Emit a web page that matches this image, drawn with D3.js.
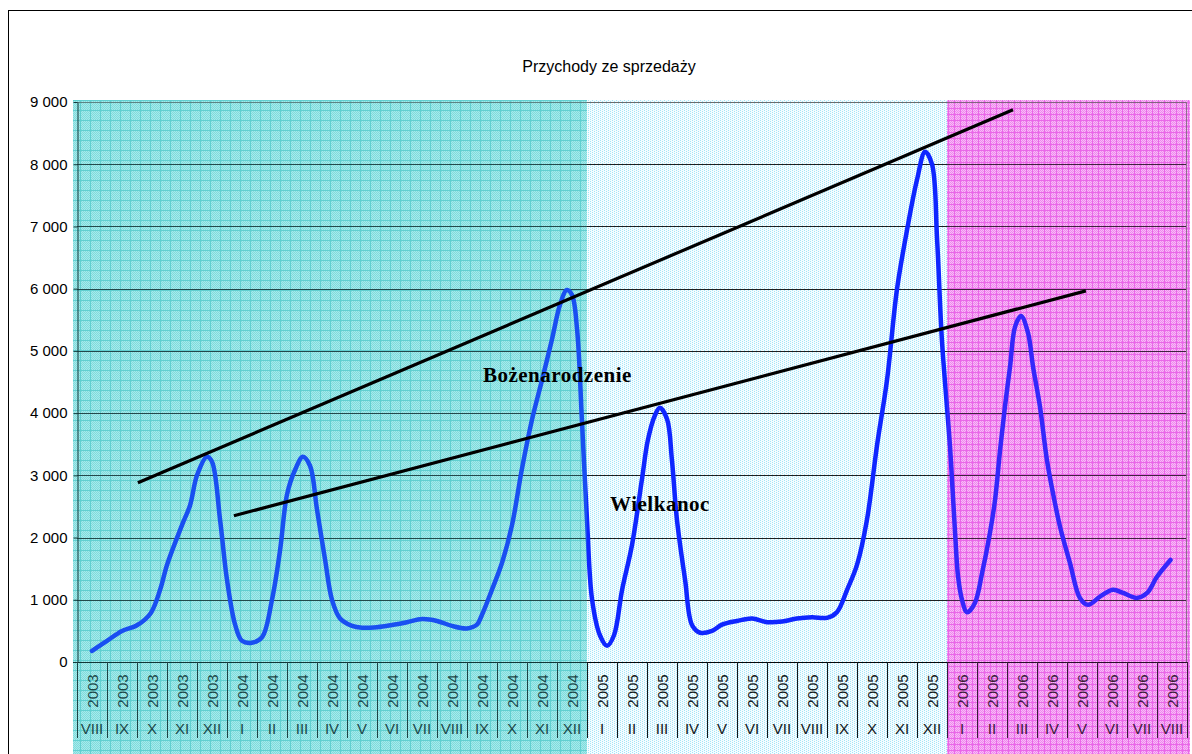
<!DOCTYPE html>
<html>
<head>
<meta charset="utf-8">
<script src="https://cdn.jsdelivr.net/npm/d3@7"></script>
<style>
  html, body { margin: 0; padding: 0; background: #fff; }
  svg { display: block; }
</style>
</head>
<body>
<svg id="chart" width="1192" height="754"></svg>
<script>
// Month categories (year + Roman month)
const years = [
  "2003","2003","2003","2003","2003",
  "2004","2004","2004","2004","2004","2004","2004","2004","2004","2004","2004","2004",
  "2005","2005","2005","2005","2005","2005","2005","2005","2005","2005","2005","2005",
  "2006","2006","2006","2006","2006","2006","2006","2006"
];
const months = [
  "VIII","IX","X","XI","XII",
  "I","II","III","IV","V","VI","VII","VIII","IX","X","XI","XII",
  "I","II","III","IV","V","VI","VII","VIII","IX","X","XI","XII",
  "I","II","III","IV","V","VI","VII","VIII"
];

// Sales curve: position along the month axis (0 = VIII 2003) and revenue
const salesPos = [
  0, 0.5, 1, 1.5, 1.95, 2.27, 2.5, 3, 3.27, 3.5, 3.83, 4, 4.27, 4.5, 4.77,
  5, 5.33, 5.67, 6, 6.27, 6.5, 6.77, 7.03, 7.27, 7.5, 7.77, 8, 8.27, 8.67,
  9, 9.5, 10, 10.5, 11, 11.5, 12, 12.5, 12.83, 13, 13.33, 13.67, 14, 14.33,
  14.67, 15, 15.33, 15.6, 15.83, 16, 16.17, 16.33, 16.5, 16.67, 16.93,
  17.17, 17.4, 17.67, 18, 18.33, 18.53, 18.77, 18.93, 19.17, 19.33, 19.5,
  19.77, 20, 20.27, 20.67, 21, 21.5, 22, 22.5, 23, 23.5, 24, 24.5, 24.83,
  25.17, 25.5, 25.83, 26.17, 26.5, 26.83, 27.17, 27.5, 27.77, 28, 28.17,
  28.33, 28.6, 28.77, 28.87, 29, 29.17, 29.43, 29.67, 29.93, 30.1, 30.27,
  30.43, 30.6, 30.77, 30.97, 31.2, 31.37, 31.6, 31.83, 32.03, 32.27, 32.6,
  32.93, 33.2, 33.6, 34.03, 34.37, 34.83, 35.17, 35.5, 35.95
];
const salesValue = [
  177, 340, 500, 590, 780, 1160, 1560, 2200, 2520, 3000, 3300, 3220, 2280, 1320, 600,
  340, 310, 400, 1000, 1800, 2690, 3090, 3300, 3150, 2450, 1640, 1000, 700, 580,
  550, 560, 595, 640, 690, 660, 580, 540, 600, 760, 1160, 1600, 2200, 3100,
  3900, 4530, 5180, 5740, 5980, 5900, 5340, 3890, 2280, 1000, 430,
  260, 430, 1160, 1880, 2930, 3570, 3970, 4085, 3900, 3250, 2280,
  1320, 595, 470, 500, 600, 660, 700, 640, 650, 700, 720, 710, 800,
  1160, 1560, 2280, 3490, 4530, 5980, 6950, 7750, 8200, 8000, 6790,
  5180, 3460, 2070, 1370, 1000, 800, 950, 1430, 2070, 2600, 3410,
  4100, 4740, 5390, 5560, 5290, 4740, 4100, 3250, 2720, 2170, 1590,
  1030, 920, 1050, 1160, 1110, 1030, 1110, 1370, 1640
];

// Trend lines drawn over the chart: [start pos, start value, end pos, end value]
const trendUpper = [1.53, 2880, 30.7, 8875];
const trendLower = [4.73, 2350, 33.13, 5965];

// Annotations: [text, pos, value]
const notes = [
  ["Bożenarodzenie", 13.03, 4500],
  ["Wielkanoc", 17.27, 2430]
];

const yTicks = [0, 1000, 2000, 3000, 4000, 5000, 6000, 7000, 8000, 9000];
const title = "Przychody ze sprzedaży";

// Season bands (first and last category index covered)
const seasons = [
  { from: 0, to: 16, under: "url(#pTeal)", tint: "rgba(60,200,205,0.28)" },
  { from: 17, to: 28, under: "url(#pIce)", tint: "rgba(90,215,250,0.04)" },
  { from: 29, to: 36, under: "url(#pPink)", tint: "rgba(240,70,235,0.18)" }
];

const svg = d3.select("#chart");
const W = 1192, H = 754;
const plot = { left: 77, right: 1187, top: 102, bottom: 662 };
const SANS = "Liberation Sans, Arial, sans-serif";
const SERIF = "Liberation Serif, 'Times New Roman', serif";

const band = d3.scaleBand().domain(d3.range(months.length)).range([plot.left, plot.right]);
const bw = band.bandwidth();
const xPos = d3.scaleLinear().domain([0, months.length - 1])
  .range([plot.left + bw / 2, plot.right - bw / 2]);
const y = d3.scaleLinear().domain([0, 9000]).range([plot.bottom, plot.top]);

// ---- fill patterns for the season bands
const defs = svg.append("defs");
function makePattern(id, size, base, check, line, step) {
  const p = defs.append("pattern").attr("id", id)
    .attr("patternUnits", "userSpaceOnUse").attr("width", size).attr("height", size);
  p.append("rect").attr("width", size).attr("height", size).attr("fill", base);
  for (let i = 0; i < size; i += step) {
    for (let j = (i / step) % 2; j < size; j += 2) {
      p.append("rect").attr("x", i).attr("y", j).attr("width", 1).attr("height", 1).attr("fill", check);
    }
  }
  if (line) {
    p.append("rect").attr("x", 0).attr("y", 0).attr("width", size).attr("height", 1).attr("fill", line);
    p.append("rect").attr("x", 0).attr("y", 0).attr("width", 1).attr("height", size).attr("fill", line);
  }
}
makePattern("pTeal", 10, "#d2f6f6", "#98e3e3", "#70d2d2", 1);
makePattern("pIce", 4, "#fbfeff", "#a6e8f8", null, 2);
makePattern("pPink", 6, "#fad6fa", "#f096f0", "#e870e8", 1);

const bandX = s => s.from === 0 ? band(s.from) - 4 : band(s.from);
const bandW = s => (s.to === months.length - 1 ? plot.right + 3 : band(s.to) + bw) - bandX(s);

// ---- outer frame
svg.append("rect").attr("x", 8.5).attr("y", 10.5).attr("width", W).attr("height", H)
  .attr("fill", "#fff").attr("stroke", "#000").attr("stroke-width", 1);

// ---- season band backgrounds
svg.append("g").selectAll("rect").data(seasons).join("rect")
  .attr("x", bandX).attr("y", plot.top - 2).attr("width", bandW)
  .attr("height", H - plot.top + 2).attr("fill", s => s.under);

// ---- title
svg.append("text").attr("x", 609).attr("y", 72).attr("text-anchor", "middle")
  .style("font-family", SANS).attr("font-size", 16).attr("fill", "#000").text(title);

// ---- horizontal gridlines
svg.append("g").selectAll("line").data(yTicks.filter(d => d > 0)).join("line")
  .attr("x1", plot.left).attr("x2", plot.right)
  .attr("y1", d => Math.round(y(d)) + 0.5).attr("y2", d => Math.round(y(d)) + 0.5)
  .attr("stroke", d => d === 9000 ? "#6a6a6a" : "#1a1a1a").attr("stroke-width", 1);

// right border of the plot area
svg.append("line").attr("x1", plot.right - 0.5).attr("x2", plot.right - 0.5)
  .attr("y1", y(9000)).attr("y2", plot.bottom).attr("stroke", "#777");

// ---- y axis
const yAxis = d3.axisLeft(y).tickValues(yTicks).tickSize(4).tickSizeOuter(0)
  .tickFormat(d => d3.format(",")(d).replace(/,/g, " "));
const gy = svg.append("g").attr("transform", `translate(${plot.left + 0.5},0)`).call(yAxis);
gy.select(".domain").attr("stroke", "#000");
gy.selectAll(".tick line").attr("stroke", "#000");
gy.selectAll(".tick text").attr("font-size", 15).attr("fill", "#000")
  .style("font-family", SANS).attr("x", -10);

// ---- x axis line and category separators
svg.append("line").attr("x1", plot.left - 4).attr("x2", plot.right)
  .attr("y1", plot.bottom + 0.5).attr("y2", plot.bottom + 0.5).attr("stroke", "#000");
const seps = d3.range(months.length + 1).map(i => i < months.length ? band(i) : plot.right);
svg.append("g").selectAll("line").data(seps).join("line")
  .attr("x1", d => Math.round(d) + 0.5).attr("x2", d => Math.round(d) + 0.5)
  .attr("y1", plot.bottom).attr("y2", plot.bottom + 76).attr("stroke", "#111");

const gx = svg.append("g").selectAll("g").data(d3.range(months.length)).join("g");
gx.append("text")
  .attr("transform", i => `translate(${band(i) + bw / 2 + 5.5},${plot.bottom + 29}) rotate(-90)`)
  .attr("text-anchor", "middle").style("font-family", SANS).attr("font-size", 15).attr("fill", "#111")
  .text(i => years[i]);
gx.append("text")
  .attr("x", i => band(i) + bw / 2).attr("y", plot.bottom + 72)
  .attr("text-anchor", "middle").style("font-family", SANS).attr("font-size", 15).attr("fill", "#111")
  .text(i => months[i]);

// ---- sales curve
const sales = salesPos.map((p, i) => [p, salesValue[i]]);
svg.append("path").datum(sales)
  .attr("fill", "none").attr("stroke", "#0c20ff").attr("stroke-width", 4.5)
  .attr("stroke-linejoin", "round").attr("stroke-linecap", "round")
  .attr("d", d3.line().x(d => xPos(d[0])).y(d => y(d[1])).curve(d3.curveCatmullRom.alpha(0.5)));

// ---- translucent season tint laid over the curve and axis texts
svg.append("g").selectAll("rect").data(seasons).join("rect")
  .attr("x", bandX).attr("y", plot.top - 2).attr("width", bandW)
  .attr("height", H - plot.top + 2).attr("fill", s => s.tint);

// ---- trend lines
[trendUpper, trendLower].forEach(t => {
  svg.append("line")
    .attr("x1", xPos(t[0])).attr("y1", y(t[1]))
    .attr("x2", xPos(t[2])).attr("y2", y(t[3]))
    .attr("stroke", "#000").attr("stroke-width", 3.2);
});

// ---- annotations
svg.append("g").selectAll("text").data(notes).join("text")
  .attr("x", d => xPos(d[1])).attr("y", d => y(d[2]))
  .style("font-family", SERIF).style("letter-spacing", "0.5px")
  .attr("font-weight", "bold").attr("font-size", 21).attr("fill", "#000")
  .text(d => d[0]);
</script>
</body>
</html>
